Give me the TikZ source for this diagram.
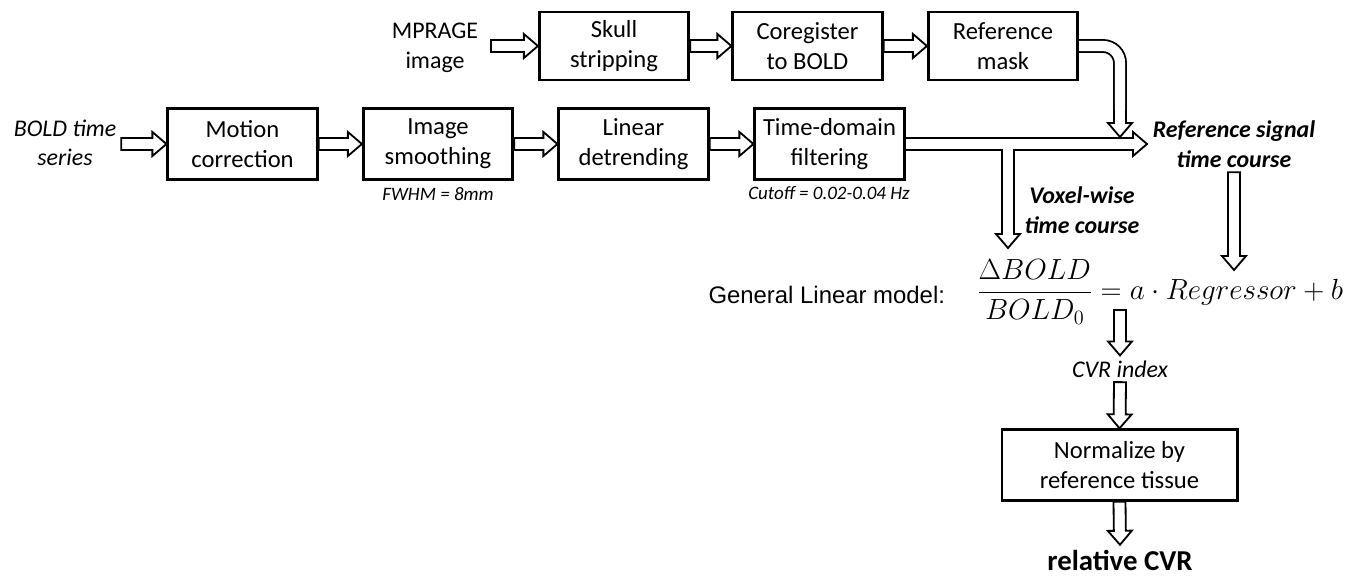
\documentclass[tikz,border=0pt]{standalone}
\usepackage{fontspec}
\setmainfont{Carlito}
\newfontfamily\arialfont{Liberation Sans}
\usetikzlibrary{calc,backgrounds}

% hollow block arrows: shaft half width, head half width, head length
\newcommand\arrshaft{0.15cm}
\newcommand\arrhead{0.3cm}
\newcommand\arrlen{0.35cm}
\newcommand\fatpts{%
     ($(\tikztostart)!\arrshaft!90:(\tikztotarget)$)
  -- ($(\tikztotarget)!\arrlen!(\tikztostart)!\arrshaft!90:(\tikztotarget)$)
  -- ($(\tikztotarget)!\arrlen!(\tikztostart)!\arrhead!90:(\tikztotarget)$)
  -- (\tikztotarget)
  -- ($(\tikztotarget)!\arrlen!(\tikztostart)!\arrhead!-90:(\tikztotarget)$)
  -- ($(\tikztotarget)!\arrlen!(\tikztostart)!\arrshaft!-90:(\tikztotarget)$)
  -- ($(\tikztostart)!\arrshaft!-90:(\tikztotarget)$)}

\tikzset{
  stage/.style={draw, line width=2.1pt, align=center, minimum width=3.73cm,
    minimum height=1.76cm, font=\fontsize{17.5}{21.5}\selectfont},
  infotext/.style={align=center, font=\fontsize{17}{21}\selectfont},
  strong/.style={align=center, font=\fontsize{17}{21}\selectfont\bfseries\itshape},
  remark/.style={font=\fontsize{13.5}{16}\selectfont\itshape},
  fatline/.style={fill=white, line width=1.3pt, line join=miter},
  fatarrow/.style={fatline, to path={\fatpts -- cycle}},
  fatarrow open/.style={fatline, to path={\fatpts}},
}

\begin{document}
\begin{tikzpicture}[x=0.025cm, y=-0.025cm]
\useasboundingbox (0,0) rectangle (1360,581);

% functional chain
\node[stage] (motion) at (242.5,144) {Motion\\correction};
\node[stage] (smooth) at (438,144) {Image\\smoothing};
\node[stage] (detrend) at (633.5,144) {Linear\\detrending};
\node[stage] (filter) at (829.5,144) {Time-domain\\filtering};
\node[infotext, font=\fontsize{17}{21}\selectfont\itshape] (boldin) at (65,143) {BOLD time\\series};
\node[remark, anchor=base] (fwhm) at (438,200) {FWHM = 8mm};
\node[remark, anchor=base] (cutoff) at (829,199) {Cutoff = 0.02-0.04 Hz};

% anatomical chain
\node[stage, minimum height=1.7cm] (skull) at (614,46) {Skull\\stripping};
\node[stage, minimum height=1.7cm] (coreg) at (807.5,46) {Coregister\\to BOLD};
\node[stage, minimum height=1.7cm] (mask) at (1003,46) {Reference\\mask};
\node[infotext] (mprage) at (435,48) {MPRAGE\\image};

% regression and normalisation
\node[strong] (refsig) at (1234,144) {Reference signal\\time course};
\node[strong] (voxel) at (1082,210) {Voxel-wise\\time course};
\node[anchor=base east, font=\arialfont\fontsize{17}{20}\selectfont] (glm) at (950,303) {General Linear model:};
\node[anchor=west, font=\fontsize{20}{24}\selectfont] (eq) at (972,292)
  {$\displaystyle\frac{\Delta BOLD}{BOLD_0} = a\cdot Regressor + b$};
\node[infotext, anchor=base, font=\fontsize{17}{21}\selectfont\itshape] (cvr) at (1120,377) {CVR index};
\node[stage, minimum width=5.875cm] (norm) at (1119.5,465) {Normalize by\\reference tissue};
\node[anchor=base, font=\bfseries\fontsize{20.5}{24}\selectfont] (rel) at (1120,570) {relative CVR};

\coordinate (sig) at (1147,144);
\coordinate (fork) at (1008,144);
\coordinate (vox) at (1008,248);
\coordinate (turn) at (1120,46);
\coordinate (drop) at (1120,137);
\coordinate (regtop) at (1236,270);
\coordinate (eqout) at (1120,310);

\begin{scope}[on background layer]
  \draw[fatarrow] (boldin.east |- motion.west) to (motion.west);
  \draw[fatarrow] (motion.east) to (smooth.west);
  \draw[fatarrow] (smooth.east) to (detrend.west);
  \draw[fatarrow] (detrend.east) to (filter.west);
  \draw[fatarrow] ($(mprage.east |- skull.west)+(8,0)$) to (skull.west);
  \draw[fatarrow] (skull.east) to (coreg.west);
  \draw[fatarrow] (coreg.east) to (mask.west);
  % filtered signal, split off to the voxel-wise branch
  \draw[fatline] ($(filter.east)+(0,-6)$) -- ($(sig)+(-14,-6)$) -- ++(0,-6) -- (sig)
    -- ($(sig)+(-14,12)$) -- ++(0,-6) -- ($(fork)+(6,6)$) -- ($(vox)+(6,-14)$)
    -- ++(6,0) -- (vox) -- ($(vox)+(-12,-14)$) -- ++(6,0) -- ($(fork)+(-6,6)$)
    -- ($(filter.east)+(0,6)$);
  % mask bends down onto the signal line
  \draw[line width=1.3pt, double distance=7.24pt, rounded corners=0.425cm]
    (mask.east) -- (turn) -- ($(drop)+(0,-25)$);
  \draw[fatarrow open] ($(drop)+(0,-27)$) to (drop);
  \draw[fatarrow] (refsig.south) to (refsig.south |- regtop);
  \draw[fatarrow] (eqout) to (cvr.north);
  \draw[fatarrow] (cvr.south) to (norm.north);
  \draw[fatarrow] (norm.south) to (rel.north);
\end{scope}
\end{tikzpicture}
\end{document}
